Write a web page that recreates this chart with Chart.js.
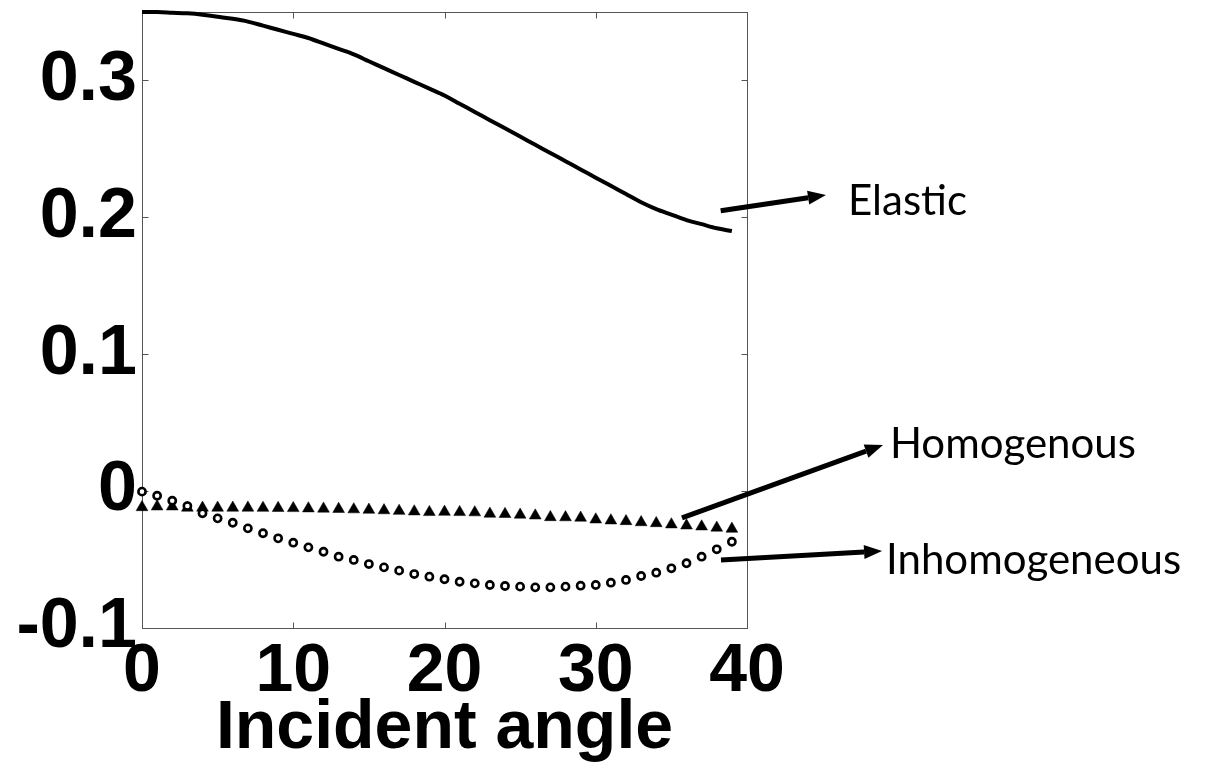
<!DOCTYPE html>
<html>
<head>
<meta charset="utf-8">
<script src="https://cdn.jsdelivr.net/npm/chart.js@4/dist/chart.umd.min.js"></script>
<style>
html,body{margin:0;padding:0;background:#fff;}
#wrap{width:1209px;height:770px;position:relative;}
</style>
</head>
<body>
<div id="wrap"><canvas id="c" width="1209" height="770"></canvas></div>
<script>
// ---- data ----
const angles = [0,1,2,3,4,5,6,7,8,9,10,11,12,13,14,15,16,17,18,19,20,21,22,23,24,25,26,27,28,29,30,31,32,33,34,35,36,37,38,39];
const elastic = [0.350,0.350,0.3495,0.349,0.348,0.3465,0.345,0.343,0.340,0.337,0.334,0.331,0.327,0.323,0.319,0.314,0.309,0.304,0.299,0.294,0.289,0.283,0.277,0.271,0.265,0.259,0.253,0.247,0.241,0.235,0.229,0.223,0.217,0.211,0.206,0.202,0.198,0.195,0.192,0.190];
const homogenous = [-0.0118,-0.0113,-0.0113,-0.0122,-0.0122,-0.0122,-0.0122,-0.0122,-0.0123,-0.0124,-0.0125,-0.0127,-0.0129,-0.0131,-0.0134,-0.0137,-0.0141,-0.0145,-0.0149,-0.0154,-0.0152,-0.0154,-0.0156,-0.0166,-0.0168,-0.0173,-0.0179,-0.0191,-0.0192,-0.0195,-0.0208,-0.0215,-0.0220,-0.0228,-0.0235,-0.0244,-0.0252,-0.0259,-0.0268,-0.0276];
const inhomogeneous = [-0.0004,-0.0034,-0.0070,-0.0109,-0.0162,-0.0199,-0.0231,-0.0272,-0.0308,-0.0345,-0.0377,-0.0411,-0.0443,-0.0479,-0.0503,-0.0533,-0.0557,-0.0581,-0.0606,-0.0625,-0.0644,-0.0662,-0.0674,-0.0686,-0.0693,-0.0698,-0.0703,-0.0703,-0.0698,-0.0691,-0.0686,-0.0669,-0.0649,-0.0620,-0.0596,-0.0564,-0.0527,-0.0479,-0.0425,-0.0370];
const xTicks = [0,10,20,30,40];
const yTicks = [-0.1,0,0.1,0.2,0.3];
const xTitle = 'Incident angle';
// annotation labels (arrow from/to and text anchor in data units)
const noteLabels = ['Elastic','Homogenous','Inhomogeneous'];
const noteFrom = [[38.26,0.2048],[35.70,-0.0196],[38.28,-0.0503]];
const noteTo = [[45.22,0.2163],[48.99,0.0337],[48.93,-0.0438]];
const noteText = [[46.68,0.2017],[49.45,0.0242],[49.19,-0.0605]];

const pts = arr => angles.map((a,i)=>({x:a,y:arr[i]}));
const boldFont = size => ({family:'"Liberation Sans", Arial, sans-serif', weight:'bold', size:size, lineHeight:1.2});

const framePlugin = {
  id:'frame',
  beforeDatasetsDraw(chart){
    const {ctx, chartArea:a, scales:{x,y}} = chart;
    ctx.save();
    ctx.strokeStyle = '#555';
    ctx.lineWidth = 1;
    const L = Math.round(a.left)+0.5, R = Math.round(a.right)+0.5, T = Math.round(a.top)+0.5, B = Math.round(a.bottom)+0.5;
    ctx.strokeRect(L, T, R-L, B-T);
    ctx.beginPath();
    xTicks.forEach(v=>{
      const px = Math.round(x.getPixelForValue(v))+0.5;
      ctx.moveTo(px,B); ctx.lineTo(px,B-6);
      ctx.moveTo(px,T); ctx.lineTo(px,T+6);
    });
    yTicks.forEach(v=>{
      const py = Math.round(y.getPixelForValue(v))+0.5;
      ctx.moveTo(L,py); ctx.lineTo(L+6,py);
      ctx.moveTo(R,py); ctx.lineTo(R-6,py);
    });
    ctx.stroke();
    ctx.restore();
  },
  afterDraw(chart){
    const {ctx, scales:{x,y}} = chart;
    ctx.save();
    ctx.strokeStyle = '#000';
    ctx.fillStyle = '#000';
    noteLabels.forEach((t,i)=>{
      const x1 = x.getPixelForValue(noteFrom[i][0]), y1 = y.getPixelForValue(noteFrom[i][1]);
      const x2 = x.getPixelForValue(noteTo[i][0]), y2 = y.getPixelForValue(noteTo[i][1]);
      const ang = Math.atan2(y2-y1, x2-x1);
      const hl = 18, hw = 7;
      const bx = x2 - hl*Math.cos(ang), by = y2 - hl*Math.sin(ang);
      ctx.lineWidth = 5;
      ctx.lineCap = 'butt';
      ctx.beginPath(); ctx.moveTo(x1,y1); ctx.lineTo(bx,by); ctx.stroke();
      ctx.beginPath();
      ctx.moveTo(x2,y2);
      ctx.lineTo(bx + hw*Math.sin(ang), by - hw*Math.cos(ang));
      ctx.lineTo(bx - hw*Math.sin(ang), by + hw*Math.cos(ang));
      ctx.closePath(); ctx.fill();
      ctx.font = '42px Lato, "Open Sans", sans-serif';
      ctx.textAlign = 'left';
      ctx.textBaseline = 'alphabetic';
      ctx.fillText(t, x.getPixelForValue(noteText[i][0]), y.getPixelForValue(noteText[i][1]));
    });
    ctx.restore();
  }
};

new Chart(document.getElementById('c'), {
  type:'line',
  data:{
    datasets:[
      {label:'Elastic', data:pts(elastic), borderColor:'#000', backgroundColor:'#000', borderWidth:4, pointRadius:0, cubicInterpolationMode:'monotone', fill:false, clip:false, order:3},
      {label:'Homogenous', data:pts(homogenous), showLine:false, pointStyle:'triangle', pointRadius:6.8, backgroundColor:'#000', borderColor:'#000', borderWidth:0.5, clip:false, order:2},
      {label:'Inhomogeneous', data:pts(inhomogeneous), showLine:false, pointStyle:'circle', pointRadius:3.6, backgroundColor:'#fff', borderColor:'#000', borderWidth:2.6, clip:false, order:1}
    ]
  },
  options:{
    responsive:false,
    animation:false,
    devicePixelRatio:1,
    layout:{padding:{top:12, right:462, left:0, bottom:0}},
    plugins:{legend:{display:false}, tooltip:{enabled:false}},
    scales:{
      x:{
        type:'linear', min:0, max:40,
        afterBuildTicks: s => { s.ticks = xTicks.map(v=>({value:v})); },
        afterFit: s => { s.height = 142; s.paddingLeft = 0; s.paddingRight = 0; },
        grid:{display:false, drawTicks:false},
        border:{display:false},
        ticks:{color:'#000', font:boldFont(68), padding:3, maxRotation:0, autoSkip:false},
        title:{display:true, text:xTitle, color:'#000', font:boldFont(68), padding:{top:0,bottom:0}}
      },
      y:{
        type:'linear', min:-0.1, max:0.35,
        afterBuildTicks: s => { s.ticks = yTicks.map(v=>({value:v})); },
        afterFit: s => { s.width = 142; s.paddingTop = 0; s.paddingBottom = 0; },
        grid:{display:false, drawTicks:false},
        border:{display:false},
        ticks:{color:'#000', font:boldFont(70), padding:5, autoSkip:false, callback: v => String(Math.round(v*10)/10)}
      }
    }
  },
  plugins:[framePlugin]
});
</script>
</body>
</html>
